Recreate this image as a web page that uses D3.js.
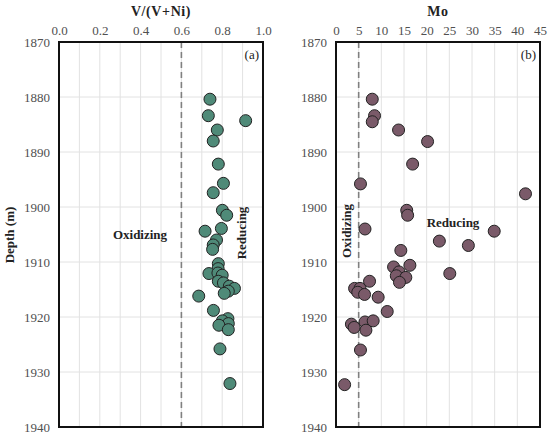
<!DOCTYPE html>
<html><head><meta charset="utf-8">
<script src="https://cdn.jsdelivr.net/npm/d3@7"></script>
<style>body{margin:0;background:#fff}svg{display:block}</style>
</head><body><svg id="c" width="550" height="436"></svg>
<script>
// V/(V+Ni) vs depth
const vDepth = [1880.4,1883.4,1884.3,1886.0,1888.0,1892.2,1895.7,1897.4,1900.6,1901.5,1904.4,1903.9,1906.0,1906.9,1907.7,1910.3,1911.2,1912.1,1912.0,1912.4,1913.5,1913.8,1914.4,1914.8,1915.3,1915.7,1916.2,1918.8,1920.3,1920.7,1921.2,1921.5,1922.3,1925.8,1932.1];
const vValue = [0.740,0.732,0.915,0.776,0.756,0.781,0.806,0.756,0.801,0.822,0.716,0.796,0.772,0.756,0.753,0.781,0.780,0.735,0.779,0.800,0.781,0.806,0.835,0.860,0.830,0.810,0.685,0.757,0.828,0.801,0.830,0.784,0.830,0.789,0.838];
// Mo vs depth
const moDepth = [1880.4,1883.4,1884.5,1886.0,1888.1,1892.2,1895.8,1897.6,1900.6,1901.5,1904.0,1904.4,1906.2,1907.0,1907.9,1910.6,1910.9,1911.8,1912.1,1912.5,1912.8,1913.7,1913.5,1914.8,1914.8,1915.5,1915.9,1916.4,1919.0,1921.3,1921.9,1920.9,1920.7,1922.4,1926.0,1932.3];
const moValue = [8.0,8.5,8.0,13.8,20.2,16.9,5.4,41.8,15.6,15.8,6.4,34.9,22.8,29.2,14.3,16.3,12.7,13.9,25.1,13.3,15.4,14.0,7.4,4.1,5.3,4.8,6.3,9.3,11.3,3.4,4.0,6.4,8.2,6.6,5.4,1.9];
const depthTicks = [1870,1880,1890,1900,1910,1920,1930,1940];
const vTicks = [0.0,0.2,0.4,0.6,0.8,1.0];
const vGrid = [0.1,0.2,0.3,0.4,0.5,0.6,0.7,0.8,0.9];
const moTicks = [0,5,10,15,20,25,30,35,40,45];
const vThreshold = 0.6, moThreshold = 5;

const svg = d3.select('#c');
const font = '"Liberation Serif","Times New Roman",serif';
const yTop = 42, yBot = 427;
const y = d3.scaleLinear().domain([1870,1940]).range([yTop,yBot]);

function panel(opt){
  const x = d3.scaleLinear().domain(opt.domain).range([opt.x0,opt.x1]);
  const g = svg.append('g');
  g.selectAll('.vg').data(opt.grid).enter().append('line')
    .attr('x1',d=>x(d)).attr('x2',d=>x(d)).attr('y1',yTop).attr('y2',yBot)
    .attr('stroke','#e2e2e2').attr('stroke-width',1);
  g.selectAll('.hg').data(depthTicks.slice(1,-1)).enter().append('line')
    .attr('x1',opt.x0).attr('x2',opt.x1).attr('y1',d=>y(d)).attr('y2',d=>y(d))
    .attr('stroke','#e2e2e2').attr('stroke-width',1);
  g.append('line').attr('x1',x(opt.thr)).attr('x2',x(opt.thr)).attr('y1',yTop).attr('y2',yBot)
    .attr('stroke','#808080').attr('stroke-width',1.6).attr('stroke-dasharray','6,4');
  const xa = d3.axisTop(x).tickValues(opt.ticks).tickSize(0).tickPadding(7).tickFormat(opt.fmt);
  const ga = g.append('g').attr('transform',`translate(0,${yTop})`).call(xa);
  ga.select('.domain').remove();
  ga.selectAll('text').attr('font-family',font).attr('font-size',13).attr('fill','#505050');
  const ya = d3.axisLeft(y).tickValues(depthTicks).tickSize(0).tickPadding(9).tickFormat(d3.format('d'));
  const gy = g.append('g').attr('transform',`translate(${opt.x0},0)`).call(ya);
  gy.select('.domain').remove();
  gy.selectAll('text').attr('font-family',font).attr('font-size',13).attr('fill','#505050');
  g.selectAll('circle').data(opt.vals.map((v,i)=>[v,opt.depth[i]])).enter().append('circle')
    .attr('cx',d=>x(d[0])).attr('cy',d=>y(d[1])).attr('r',6)
    .attr('fill',opt.color).attr('stroke','#222').attr('stroke-width',1);
  g.append('rect').attr('x',opt.x0).attr('y',yTop).attr('width',opt.x1-opt.x0).attr('height',yBot-yTop)
    .attr('fill','none').attr('stroke','#111').attr('stroke-width',2);
  g.append('text').attr('x',(opt.x0+opt.x1)/2).attr('y',16).attr('text-anchor','middle')
    .attr('font-family',font).attr('font-weight','bold').attr('font-size',14).attr('letter-spacing',0.6).attr('fill','#222').text(opt.title);
  g.append('text').attr('x',opt.x1-4).attr('y',59).attr('text-anchor','end')
    .attr('font-family',font).attr('font-size',13).attr('fill','#222').text(opt.label);
  return {g,x};
}

const a = panel({domain:[0,1],x0:59,x1:263,grid:vGrid,ticks:vTicks,fmt:d3.format('.1f'),thr:vThreshold,
  vals:vValue,depth:vDepth,color:'#4f8a78',title:'V/(V+Ni)',label:'(a)'});
const b = panel({domain:[0,45],x0:336,x1:540,grid:moTicks.slice(1,-1),ticks:moTicks,fmt:d3.format('d'),thr:moThreshold,
  vals:moValue,depth:moDepth,color:'#7a5a69',title:'Mo',label:'(b)'});

const bold = s=>s.attr('font-family',font).attr('font-weight','bold').attr('font-size',13).attr('fill','#222');
bold(a.g.append('text').attr('x',140).attr('y',239).attr('text-anchor','middle').text('Oxidizing'));
bold(a.g.append('text').attr('transform','translate(246,233) rotate(-90)').attr('text-anchor','middle').text('Reducing'));
bold(b.g.append('text').attr('transform','translate(351,231) rotate(-90)').attr('text-anchor','middle').text('Oxidizing'));
bold(b.g.append('text').attr('x',453).attr('y',227).attr('text-anchor','middle').text('Reducing'));
bold(svg.append('text').attr('transform','translate(14,235) rotate(-90)').attr('text-anchor','middle').text('Depth (m)'));
</script></body></html>
